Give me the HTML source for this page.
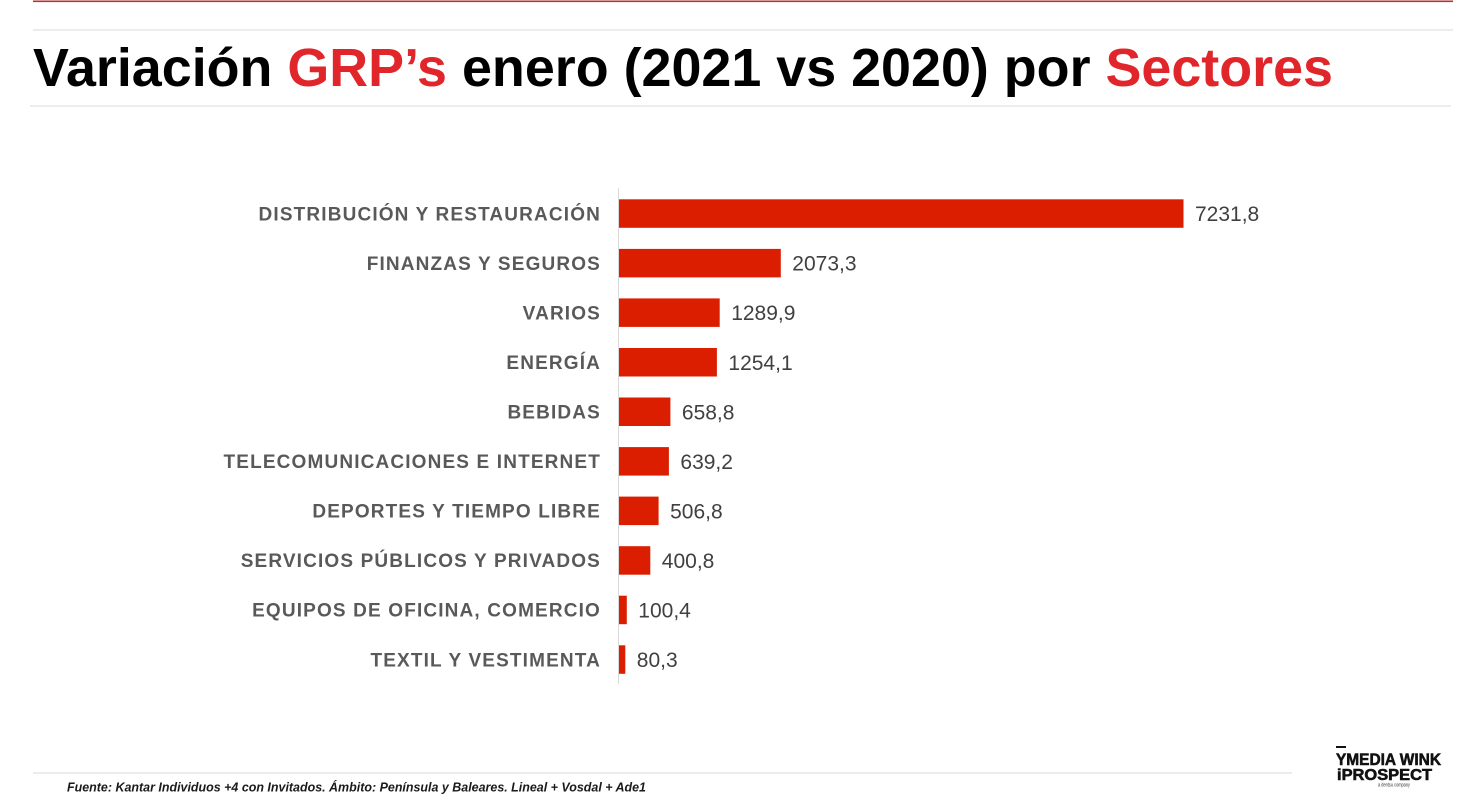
<!DOCTYPE html>
<html>
<head>
<meta charset="utf-8">
<style>
  html,body{margin:0;padding:0;background:#fff;}
  svg{display:block;}
  text{font-family:"Liberation Sans",Arial,sans-serif;}
</style>
</head>
<body>
<svg width="1460" height="805" viewBox="0 0 1460 805" xmlns="http://www.w3.org/2000/svg">
  <!-- header lines -->
  <rect x="33" y="0.5" width="1420" height="1.6" fill="#b8312f"/>
  <rect x="33" y="29.5" width="1420" height="1" fill="#d9d9d9"/>
  <rect x="30" y="105.5" width="1421" height="1" fill="#d9d9d9"/>

  <!-- title -->
  <text x="33" y="86" font-size="54" font-weight="bold" fill="#000" textLength="1300" lengthAdjust="spacingAndGlyphs">Variación <tspan fill="#e1262b">GRP’s</tspan> enero (2021 vs 2020) por <tspan fill="#e1262b">Sectores</tspan></text>

  <!-- axis -->
  <rect x="618" y="188" width="1" height="496" fill="#d9d9d9"/>

  <!-- bars -->
  <g fill="#dc1e00">
    <rect x="619" y="199.3" width="564.5" height="28.5"/>
    <rect x="619" y="248.9" width="161.8" height="28.5"/>
    <rect x="619" y="298.4" width="100.7" height="28.5"/>
    <rect x="619" y="348.0" width="97.9" height="28.5"/>
    <rect x="619" y="397.5" width="51.4" height="28.5"/>
    <rect x="619" y="447.1" width="49.9" height="28.5"/>
    <rect x="619" y="496.6" width="39.6" height="28.5"/>
    <rect x="619" y="546.2" width="31.3" height="28.5"/>
    <rect x="619" y="595.7" width="7.8" height="28.5"/>
    <rect x="619" y="645.3" width="6.3" height="28.5"/>
  </g>

  <!-- category labels -->
  <g font-size="19" font-weight="bold" fill="#595959" text-anchor="end" letter-spacing="1.15">
    <text x="601" y="220.3">DISTRIBUCIÓN Y RESTAURACIÓN</text>
    <text x="601" y="269.9">FINANZAS Y SEGUROS</text>
    <text x="601" y="319.4">VARIOS</text>
    <text x="601" y="369.0">ENERGÍA</text>
    <text x="601" y="418.5">BEBIDAS</text>
    <text x="601" y="468.1">TELECOMUNICACIONES E INTERNET</text>
    <text x="601" y="517.6">DEPORTES Y TIEMPO LIBRE</text>
    <text x="601" y="567.2">SERVICIOS PÚBLICOS Y PRIVADOS</text>
    <text x="601" y="616.7">EQUIPOS DE OFICINA, COMERCIO</text>
    <text x="601" y="666.3">TEXTIL Y VESTIMENTA</text>
  </g>

  <!-- value labels -->
  <g font-size="21" fill="#404040">
    <text x="1195" y="221.1">7231,8</text>
    <text x="792.3" y="270.7">2073,3</text>
    <text x="731.2" y="320.2">1289,9</text>
    <text x="728.4" y="369.8">1254,1</text>
    <text x="681.9" y="419.3">658,8</text>
    <text x="680.4" y="468.9">639,2</text>
    <text x="670.1" y="518.4">506,8</text>
    <text x="661.8" y="568.0">400,8</text>
    <text x="638.3" y="617.5">100,4</text>
    <text x="636.8" y="667.1">80,3</text>
  </g>

  <!-- footer -->
  <rect x="33" y="772.5" width="1259" height="1" fill="#d9d9d9"/>
  <text x="67" y="791.5" font-size="13" font-style="italic" font-weight="bold" fill="#1a1a1a" textLength="579" lengthAdjust="spacingAndGlyphs">Fuente: Kantar Individuos +4 con Invitados. Ámbito: Península y Baleares. Lineal + Vosdal + Ade1</text>

  <!-- logo -->
  <rect x="1336" y="746" width="10" height="2" fill="#111"/>
  <text x="1336" y="765" font-size="17" font-weight="bold" fill="#111" stroke="#111" stroke-width="0.6" textLength="105" lengthAdjust="spacingAndGlyphs">YMEDIA WINK</text>
  <text x="1337" y="780" font-size="16" font-weight="bold" fill="#111" stroke="#111" stroke-width="0.6" textLength="95" lengthAdjust="spacingAndGlyphs">iPROSPECT</text>
  <text x="1378" y="786.5" font-size="5" fill="#333" textLength="32" lengthAdjust="spacingAndGlyphs">a dentsu company</text>
</svg>
</body>
</html>
